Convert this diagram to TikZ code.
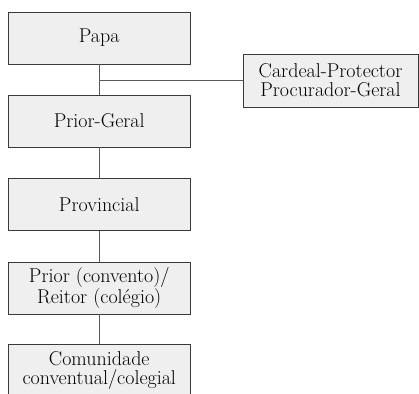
\documentclass[tikz,border=0pt]{standalone}
\usepackage{fontspec}
\usepackage{xcolor}
\definecolor{OrgFill}{HTML}{EFEFF0}
\definecolor{OrgLine}{HTML}{3A3A3A}
\definecolor{OrgLink}{HTML}{5A5A5A}
\tikzset{
  orgbox/.style={draw=OrgLine,fill=OrgFill,line width=.9pt,minimum width=181.5pt,minimum height=52pt,align=center,inner sep=0pt},
  sidebox/.style={orgbox,minimum width=175pt,minimum height=53pt},
  link/.style={draw=OrgLink,line width=1.1pt}
}
\begin{document}
\begin{tikzpicture}[x=1pt,y=-1pt,font=\fontsize{20}{19}\selectfont]
\path[use as bounding box] (0,0) rectangle (419,393);
\node[orgbox] (papa) at (99.25,38) {Papa};
\node[orgbox] (geral) at (99.25,121) {Prior-Geral};
\node[orgbox] (prov) at (99.25,204.5) {Provincial};
\node[orgbox] (prior) at (99.25,288) {Prior (convento)/\\Reitor (colégio)};
\node[orgbox] (comun) at (99.25,370) {Comunidade\\conventual/colegial};
\node[sidebox] (card) at (330.5,80.5) {Cardeal-Protector\\Procurador-Geral};
\coordinate (fork) at (papa.south |- card.west);
\draw[link] (papa) -- (geral);
\draw[link] (fork) -- (card.west);
\draw[link] (geral) -- (prov);
\draw[link] (prov) -- (prior);
\draw[link] (prior) -- (comun);
\end{tikzpicture}
\end{document}
